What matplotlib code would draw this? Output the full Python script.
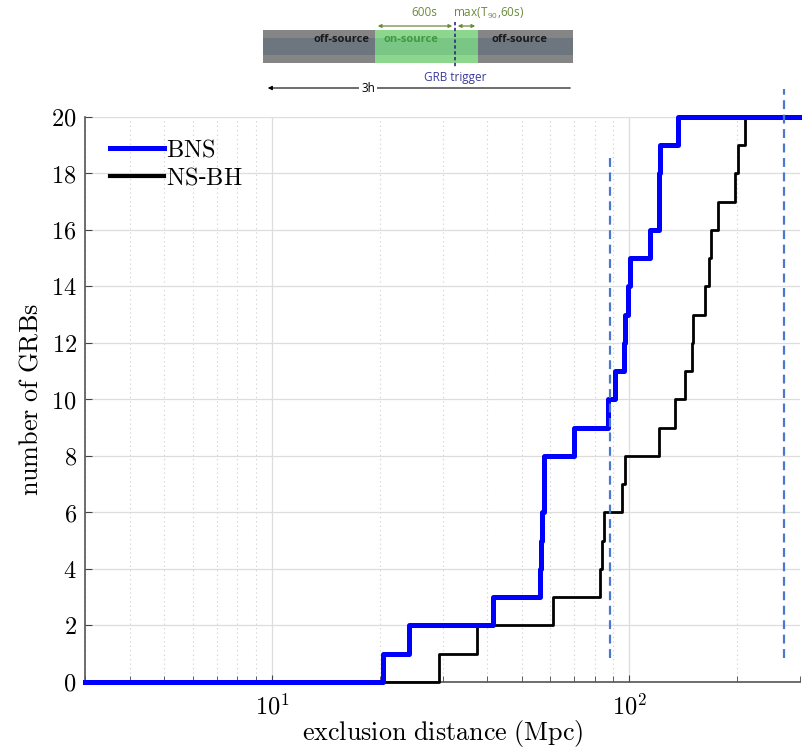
import numpy as np
import matplotlib
matplotlib.use("Agg")
import matplotlib.pyplot as plt
from matplotlib.patches import Rectangle

plt.rcParams['mathtext.fontset'] = 'cm'
plt.rcParams['font.family'] = ['DejaVu Serif']

# sorted exclusion distances (Mpc), one per GRB
bns_dist = [20.5, 24.2, 41.4, 56.3, 56.5, 57.0, 57.5, 57.8, 70.0, 87.1,
            91.0, 96.5, 97.3, 99.1, 100.2, 114.0, 120.9, 121.1, 121.9, 137.0]
nsbh_dist = [29.3, 37.4, 61.1, 82.6, 84.0, 85.0, 95.5, 96.9, 120.8, 134.5,
             143.0, 149.3, 150.8, 162.5, 166.5, 169.5, 177.4, 197.7, 201.5, 211.0]
# dashed reference distances and their vertical extents
ref_x = [88.5, 270.0]
ref_ylo = [0.85, 0.85]
ref_yhi = [18.7, 21.0]

x_min, x_max = 3, 300
y_ticks = [0, 2, 4, 6, 8, 10, 12, 14, 16, 18, 20]

fig = plt.figure(figsize=(8.02, 7.5), dpi=100)
ax = fig.add_axes([0.106, 0.0907, 0.8915, 0.7533])

n = np.arange(1, len(bns_dist) + 1)
ax.step(np.r_[x_min, bns_dist, x_max], np.r_[0, n, n[-1]], where='post',
        color='#0000ff', lw=3.6, clip_on=False, zorder=4, label=r'$\mathrm{BNS}$')
n2 = np.arange(1, len(nsbh_dist) + 1)
ax.step(np.r_[x_min, nsbh_dist, x_max], np.r_[0, n2, n2[-1]], where='post',
        color='black', lw=2.0, clip_on=False, zorder=3, label=r'$\mathrm{NS}$-$\mathrm{BH}$')

for xv, lo, hi in zip(ref_x, ref_ylo, ref_yhi):
    ax.plot([xv, xv], [lo, hi], color='#4a78cc', lw=1.6, ls=(0, (4, 2.5)),
            clip_on=False, zorder=5)

ax.set_xscale('log')
ax.set_xlim(x_min, x_max)
ax.set_ylim(0, 20)
ax.set_yticks(y_ticks)
ax.set_yticklabels([r'$%d$' % v for v in y_ticks])
ax.set_xticks([10, 100])
ax.set_xticklabels([r'$10^1$', r'$10^2$'])
ax.tick_params(axis='both', which='major', direction='in', length=5,
               labelsize=17.5, color='#444444', pad=6)
ax.tick_params(axis='x', which='minor', direction='in', length=4, color='#444444')
ax.tick_params(axis='x', which='major', pad=9)

ax.grid(True, which='major', color='#dddddd', lw=0.9, ls='-')
ax.grid(True, which='minor', axis='x', color='#cccccc', lw=0.8, ls=(0, (1, 3)))
ax.set_axisbelow(True)
for s in ['top', 'right']:
    ax.spines[s].set_visible(False)
for s in ['left', 'bottom']:
    ax.spines[s].set_color('#555555')
    ax.spines[s].set_linewidth(1.2)

ax.set_xlabel(r'$\mathrm{exclusion\ distance\ (Mpc)}$', fontsize=18.8, labelpad=-1)
ax.set_ylabel(r'$\mathrm{number\ of\ GRBs}$', fontsize=18.8, labelpad=6)

leg = ax.legend(loc='upper left', bbox_to_anchor=(0.005, 1.0), frameon=False,
                fontsize=17.5, handlelength=2.2, handletextpad=0.1, labelspacing=0.2)
leg.get_lines()[1].set_linewidth(3.0)

# schematic of the analysis time window, drawn in pixel coordinates
sk = fig.add_axes([0, 0, 1, 1], zorder=-1)
sk.set_xlim(0, 802)
sk.set_ylim(750, 0)
sk.axis('off')
sk.add_patch(Rectangle((263, 30), 310, 33, color='#858585', lw=0))
sk.add_patch(Rectangle((263, 38), 310, 17, color='#66717e', lw=0, alpha=0.75))
sk.add_patch(Rectangle((375, 30), 103, 33, color='#8fe08f', lw=0, alpha=0.9))
sk.add_patch(Rectangle((375, 38), 103, 17, color='#6fbf80', lw=0, alpha=0.6))
sk.plot([455, 455], [22, 68], color='#2a2a80', lw=1.2, ls=(0, (2, 1.5)))
sans = ['Open Sans', 'DejaVu Sans']
sk.text(342, 40, 'off-source', ha='center', va='center', fontsize=8,
        fontweight='bold', color='#1a1a1a', family=sans)
sk.text(411, 40, 'on-source', ha='center', va='center', fontsize=8,
        fontweight='bold', color='#3f9a3f', family=sans)
sk.text(519, 40, 'off-source', ha='center', va='center', fontsize=8,
        fontweight='bold', color='#1a1a1a', family=sans)
sk.annotate('', xy=(375, 26), xytext=(455, 26),
            arrowprops=dict(arrowstyle='<|-|>', color='#6b8a3a', lw=0.9, mutation_scale=5))
sk.annotate('', xy=(455, 26), xytext=(478, 26),
            arrowprops=dict(arrowstyle='<|-|>', color='#6b8a3a', lw=0.9, mutation_scale=5))
sk.text(424, 13, '600s', ha='center', va='center', fontsize=8.5,
        color='#6b8a3a', family=sans)
sk.text(489, 13, r'max(T$_{\mathregular{90}}$,60s)', ha='center', va='center',
        fontsize=8.5, color='#6b8a3a', family=sans)
sk.text(455, 78, 'GRB trigger', ha='center', va='center', fontsize=8.5,
        color='#3b3b9b', family=sans)
sk.annotate('', xy=(265, 88), xytext=(573, 88),
            arrowprops=dict(arrowstyle='-|>', color='black', lw=0.8, mutation_scale=6))
sk.text(368, 88, '3h', ha='center', va='center', fontsize=8.5, color='black',
        family=sans, bbox=dict(fc='white', ec='none', pad=1.5))

fig.savefig('out.png', dpi=100)
